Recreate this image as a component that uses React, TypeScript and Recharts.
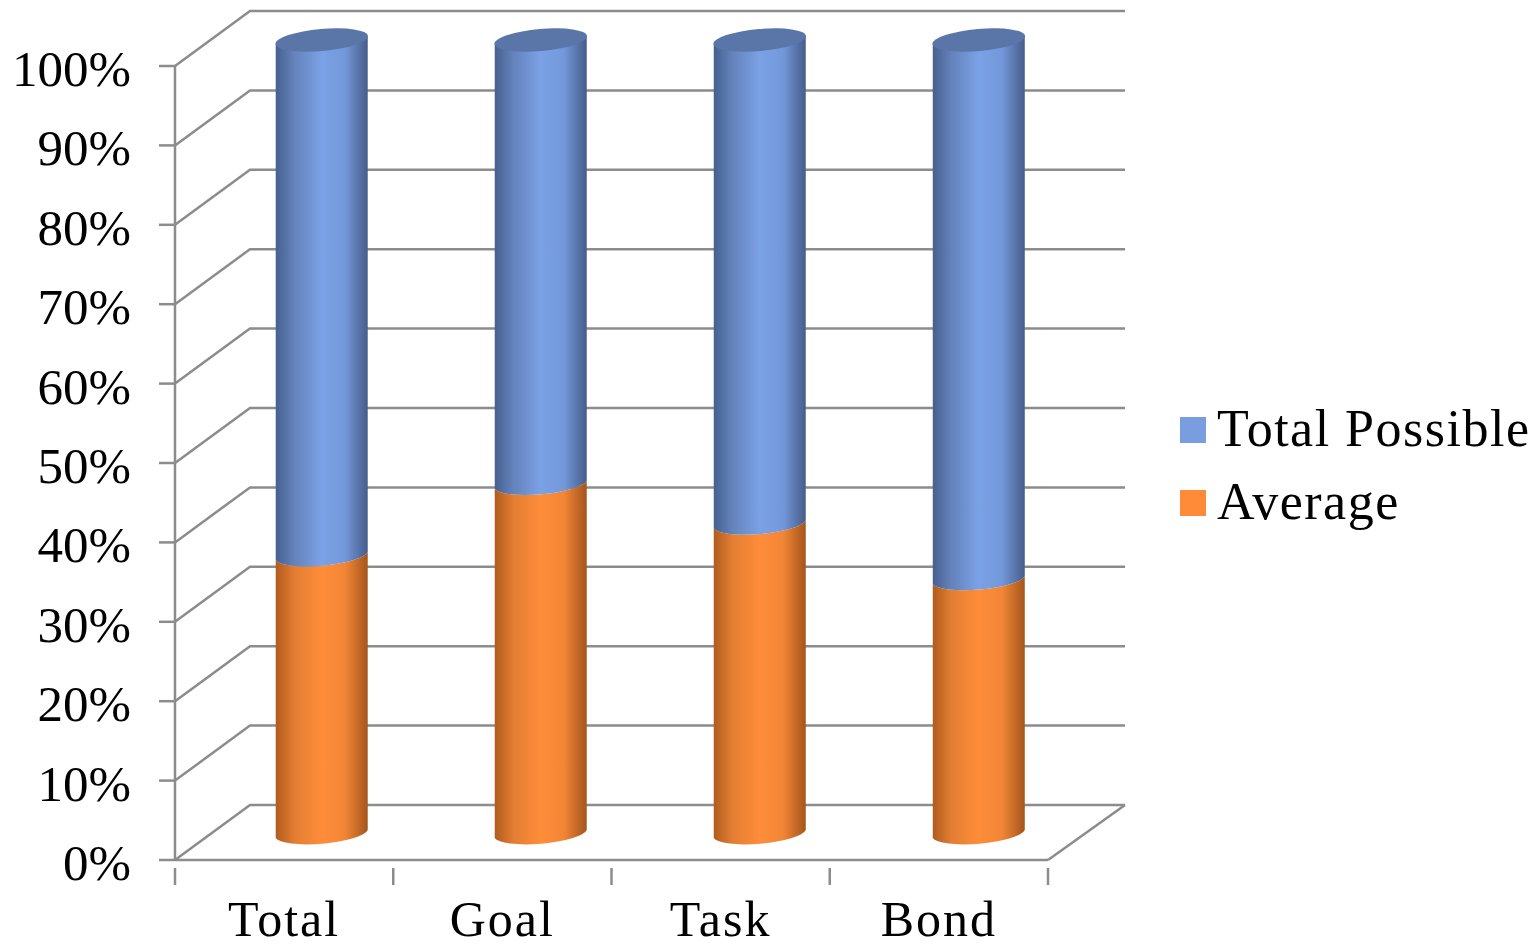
import { BarChart, Bar, XAxis, YAxis, CartesianGrid, Legend } from 'recharts'

const categories = ['Total', 'Goal', 'Task', 'Bond']
const average = [35, 44, 39, 32]
const totalPossible = [65, 56, 61, 68]
const percentTicks = [0, 10, 20, 30, 40, 50, 60, 70, 80, 90, 100]

const rows = categories.map((name, i) => ({
    name,
    average: average[i],
    totalPossible: totalPossible[i],
}))

const FONT = '"Liberation Serif", serif'
const AXIS_GREY = '#8c8c8c'
const BLUE = '#7a9ddf'
const ORANGE = '#ff8a38'

// depth of the box and of the cylinders in the pseudo 3D projection
const DEPTH_X = 75
const DEPTH_X_RIGHT = 77
const DEPTH_Y = 55
const CYLINDER_LIFT = 26
const PLOT_LEFT = 175
const RY = 11
const TILT = 4

function Cylinder(props: any) {
    const { x, y, width, height, fill, cap } = props
    // the back wall is a little wider than the front, so later columns drift right
    const left = x + DEPTH_X / 2 + (x - PLOT_LEFT) * 0.0035
    const right = left + width
    const top = y - CYLINDER_LIFT
    const bottom = top + height
    const rx = width / 2 + 0.5
    const d = [
        `M ${left} ${top + TILT}`,
        `A ${rx} ${RY} -5 0 0 ${right} ${top - TILT}`,
        `L ${right} ${bottom - TILT}`,
        `A ${rx} ${RY} -5 0 1 ${left} ${bottom + TILT}`,
        'Z',
    ].join(' ')
    return (
        <g>
            <path d={d} fill={fill} />
            {cap && (
                <ellipse
                    cx={(left + right) / 2}
                    cy={top}
                    rx={rx}
                    ry={RY}
                    fill={cap}
                    transform={`rotate(-5 ${(left + right) / 2} ${top})`}
                />
            )}
        </g>
    )
}

function GridLine(props: any) {
    const { x1, y1, x2, y2, index } = props
    const backY = y1 - DEPTH_Y
    const isFloor = Math.round(y2) === 860
    return (
        <g key={`grid-${index}`} fill="none" stroke={AXIS_GREY} strokeWidth={2.5}>
            <polyline points={`${x1},${y1} ${x1 + DEPTH_X},${backY} ${x2 + DEPTH_X_RIGHT},${backY}`} />
            {isFloor && <line x1={x2} y1={y2} x2={x2 + DEPTH_X_RIGHT} y2={backY} />}
        </g>
    )
}

function CategoryTick(props: any) {
    const { x, y, payload, index } = props
    const band = 873 / categories.length
    return (
        <g>
            {index === 0 && <line x1={x - band / 2} y1={y} x2={x - band / 2} y2={y + 17} stroke={AXIS_GREY} strokeWidth={2.5} />}
            <line x1={x + band / 2} y1={y} x2={x + band / 2} y2={y + 17} stroke={AXIS_GREY} strokeWidth={2.5} />
            <text x={x} y={936} textAnchor="middle" fontFamily={FONT} fontSize={50} letterSpacing={2} fill="#000">
                {payload.value}
            </text>
        </g>
    )
}

function PercentTick(props: any) {
    const { x, y, payload } = props
    return (
        <text x={x} y={y + 20} textAnchor="end" fontFamily={FONT} fontSize={51} fill="#000">
            {`${payload.value}%`}
        </text>
    )
}

function LegendBox(props: any) {
    const items = [...(props.payload ?? [])].reverse()
    return (
        <svg width={356} height={150} style={{ display: 'block' }}>
            {items.map((item: any, i: number) => (
                <g key={item.value}>
                    <rect x={0} y={22 + i * 73} width={26} height={26} fill={item.dataKey === 'average' ? ORANGE : BLUE} />
                    <text x={37} y={51 + i * 73} fontFamily={FONT} fontSize={52} letterSpacing={1.5} fill="#000">
                        {item.value}
                    </text>
                </g>
            ))}
        </svg>
    )
}

export default function App() {
    return (
        <div style={{ position: 'absolute', left: 0, top: 0 }}>
            <BarChart
                width={1536}
                height={947}
                data={rows}
                barSize={92}
                margin={{ top: 66, right: 132, bottom: 0, left: 0 }}
            >
                <defs>
                    <linearGradient id="blueSide" x1="0" y1="0" x2="1" y2="0">
                        <stop offset="0" stopColor="#46608f" />
                        <stop offset="0.2" stopColor="#6482bb" />
                        <stop offset="0.5" stopColor="#7ba1e6" />
                        <stop offset="0.75" stopColor="#7398da" />
                        <stop offset="1" stopColor="#465d8a" />
                    </linearGradient>
                    <linearGradient id="orangeSide" x1="0" y1="0" x2="1" y2="0">
                        <stop offset="0" stopColor="#b05c1e" />
                        <stop offset="0.2" stopColor="#e27d32" />
                        <stop offset="0.5" stopColor="#ff8d3a" />
                        <stop offset="0.75" stopColor="#f28636" />
                        <stop offset="1" stopColor="#a5551c" />
                    </linearGradient>
                </defs>
                <CartesianGrid vertical={false} horizontal={GridLine} />
                <XAxis
                    dataKey="name"
                    height={87}
                    interval={0}
                    axisLine={{ stroke: AXIS_GREY, strokeWidth: 2.5 }}
                    tickLine={false}
                    tick={CategoryTick}
                />
                <YAxis
                    width={175}
                    domain={[0, 100]}
                    ticks={percentTicks}
                    interval={0}
                    tickSize={16}
                    tickMargin={28}
                    axisLine={{ stroke: AXIS_GREY, strokeWidth: 2.5 }}
                    tickLine={{ stroke: AXIS_GREY, strokeWidth: 2.5 }}
                    tick={PercentTick}
                />
                <Legend
                    layout="vertical"
                    align="right"
                    verticalAlign="middle"
                    width={356}
                    wrapperStyle={{ left: 1180, top: 395, right: 'auto' }}
                    content={LegendBox}
                />
                <Bar
                    dataKey="average"
                    name="Average"
                    stackId="a"
                    fill={ORANGE}
                    isAnimationActive={false}
                    shape={(p: any) => <Cylinder {...p} fill="url(#orangeSide)" />}
                />
                <Bar
                    dataKey="totalPossible"
                    name="Total Possible"
                    stackId="a"
                    fill={BLUE}
                    isAnimationActive={false}
                    shape={(p: any) => <Cylinder {...p} fill="url(#blueSide)" cap="#5a76a8" />}
                />
            </BarChart>
        </div>
    )
}
